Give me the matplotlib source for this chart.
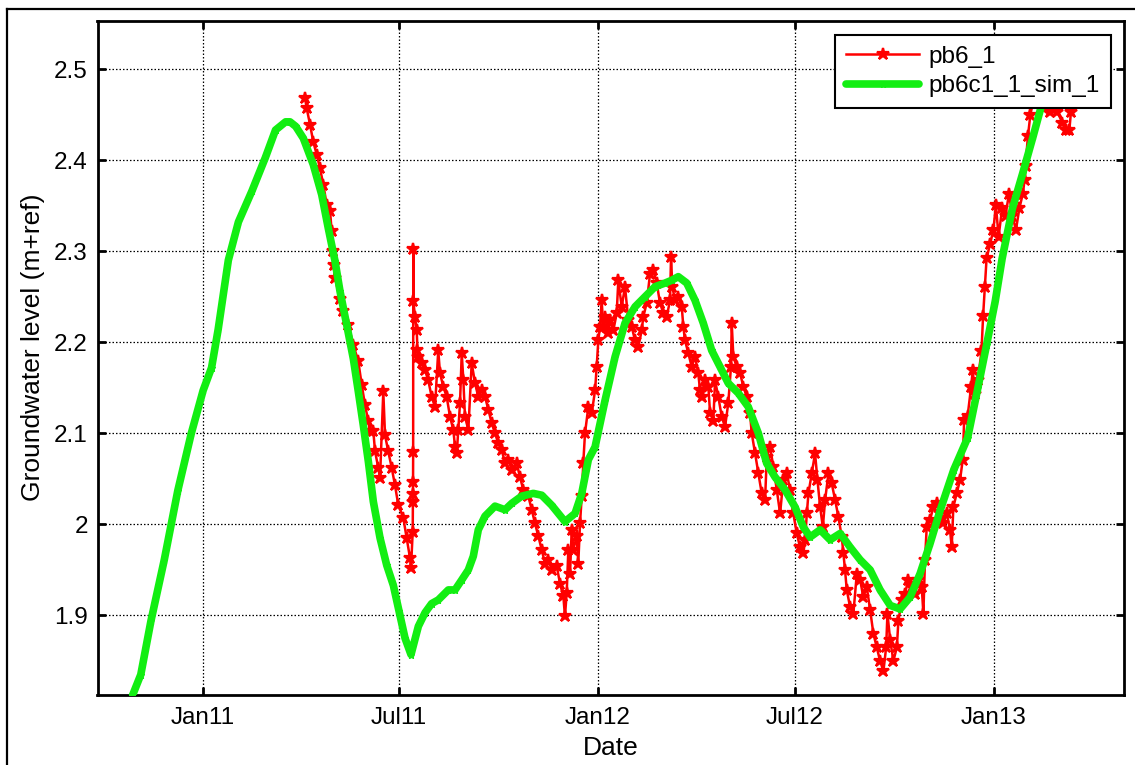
import numpy as np
import matplotlib
matplotlib.use("Agg")
import matplotlib.pyplot as plt
import matplotlib.dates as mdates
from matplotlib.ticker import FixedLocator, FuncFormatter
from matplotlib.lines import Line2D

# Days are counted from 2011-01-01
ORIGIN = np.datetime64("2011-01-01T00:00:00")

# Simulated groundwater level (pb6c1_1_sim_1)
sim_day = [-65.2, -57.5, -48.1, -35.8, -23.3, -10.8, 0.1, 7.9, 14.0, 23.4, 32.7, 45.2,
           57.7, 67.0, 76.3, 80.4, 85.7, 92.7, 101.9, 109.7, 115.8, 122.0, 126.6, 132.8,
           138.9, 143.5, 148.1, 152.8, 157.4, 163.6, 169.8, 175.9, 181.1, 186.7, 192.2,
           199.0, 205.2, 211.3, 217.4, 226.7, 232.9, 239.1, 245.2, 249.8, 254.4, 260.6,
           269.8, 279.1, 285.3, 294.5, 305.2, 313.0, 322.2, 334.5, 343.8, 350.0, 356.1,
           362.3, 371.5, 380.8, 390.0, 399.3, 408.5, 417.7, 427.0, 433.1, 439.2, 447.0,
           454.7, 462.3, 470.1, 477.8, 485.4, 494.7, 503.9, 513.2, 520.9, 528.6, 537.8,
           547.1, 554.8, 561.0, 570.3, 579.5, 588.8, 598.0, 607.3, 616.5, 625.7, 635.0,
           644.2, 653.4, 662.7, 671.9, 681.1, 693.8, 706.6, 716.1, 724.1, 732.1, 738.5,
           748.0, 757.6, 767.1, 775.1, 782.7, 792.0]
sim_level = [1.812, 1.835, 1.894, 1.961, 2.037, 2.100, 2.147, 2.172, 2.214, 2.290, 2.332,
             2.366, 2.403, 2.433, 2.442, 2.442, 2.437, 2.424, 2.395, 2.362, 2.325, 2.289,
             2.256, 2.219, 2.182, 2.146, 2.109, 2.069, 2.025, 1.985, 1.955, 1.933, 1.905,
             1.875, 1.857, 1.888, 1.903, 1.913, 1.917, 1.928, 1.928, 1.939, 1.950, 1.965,
             1.994, 2.009, 2.020, 2.016, 2.023, 2.031, 2.034, 2.032, 2.021, 2.003, 2.012,
             2.034, 2.071, 2.085, 2.136, 2.184, 2.221, 2.239, 2.250, 2.261, 2.265, 2.268,
             2.272, 2.265, 2.246, 2.221, 2.191, 2.173, 2.155, 2.144, 2.129, 2.100, 2.067,
             2.052, 2.038, 2.019, 1.997, 1.986, 1.994, 1.983, 1.990, 1.975, 1.961, 1.950,
             1.928, 1.911, 1.907, 1.920, 1.946, 1.979, 2.015, 2.060, 2.095, 2.150, 2.197,
             2.245, 2.292, 2.347, 2.386, 2.426, 2.461, 2.495, 2.530]

# Observed groundwater level (pb6_1)
obs_day = [94.3, 95.8, 98.9, 101.9, 105.1, 108.1, 111.2, 114.3, 117.4, 118.9, 119.9, 120.6,
           122.0, 126.6, 129.7, 134.3, 138.9, 143.5, 146.7, 149.7, 152.8, 154.3, 157.4,
           159.0, 162.0, 163.6, 166.6, 168.2, 171.2, 174.4, 177.4, 180.5, 185.1, 188.2,
           191.3, 192.2, 193.8, 193.9, 194.0, 194.1, 194.2, 194.3, 194.4, 195.9, 197.5,
           198.2, 199.0, 202.1, 205.2, 208.2, 211.3, 214.4, 217.4, 219.0, 222.1, 225.2,
           228.3, 231.3, 232.9, 234.5, 235.9, 237.5, 239.1, 240.6, 242.1, 245.2, 248.3,
           251.4, 254.4, 257.6, 260.6, 263.7, 266.8, 269.8, 272.9, 276.0, 279.1, 282.1,
           285.3, 289.9, 292.9, 296.0, 300.6, 303.8, 306.8, 309.9, 313.0, 316.1, 319.1,
           322.2, 326.9, 329.9, 333.0, 334.5, 336.1, 337.6, 339.2, 340.7, 342.2, 345.3,
           346.8, 348.4, 350.0, 351.4, 353.0, 356.1, 359.2, 362.3, 363.8, 365.3, 366.9,
           368.4, 369.9, 371.5, 374.5, 376.1, 379.2, 382.3, 383.8, 386.9, 390.0, 393.0,
           396.2, 399.2, 402.3, 405.4, 406.9, 410.0, 413.1, 416.1, 419.3, 422.3, 425.4,
           428.5, 431.6, 432.5, 433.7, 436.2, 439.2, 442.4, 443.9, 445.4, 448.5, 451.6,
           454.7, 457.7, 459.3, 460.9, 463.9, 467.0, 468.6, 471.6, 473.2, 476.2, 479.4,
           482.4, 485.4, 487.9, 488.6, 490.1, 493.2, 496.3, 499.4, 502.5, 505.5, 507.1,
           510.2, 513.2, 516.3, 519.4, 521.0, 524.0, 527.1, 530.2, 533.3, 536.3, 539.5,
           542.5, 545.5, 548.7, 551.7, 554.8, 556.4, 558.0, 559.5, 562.5, 565.6, 567.8,
           570.3, 572.8, 574.9, 578.0, 581.0, 584.1, 587.2, 590.3, 591.8, 593.3, 594.9,
           598.0, 601.0, 604.2, 607.3, 610.2, 613.4, 616.5, 619.5, 622.6, 625.7, 628.8,
           631.3, 632.5, 635.0, 638.0, 641.2, 642.6, 645.8, 648.7, 651.8, 655.0, 658.0,
           661.1, 664.2, 665.7, 667.2, 668.8, 671.9, 674.9, 678.0, 681.1, 684.1, 687.3,
           690.3, 691.9, 693.4, 696.5, 699.6, 702.1, 703.4, 706.6, 709.8, 711.4, 713.0,
           716.1, 719.4, 720.9, 722.5, 724.1, 727.3, 730.4, 732.7, 735.2, 738.5, 741.6,
           744.8, 748.0, 751.2, 754.4, 757.6, 759.2, 760.1, 762.3, 764.5, 767.1, 770.4,
           776.6, 783.0, 789.4, 794.2, 797.4, 800.6, 802.1]
obs_level = [2.468, 2.457, 2.439, 2.420, 2.406, 2.391, 2.373, 2.351, 2.344, 2.322, 2.300,
             2.285, 2.270, 2.248, 2.234, 2.219, 2.197, 2.179, 2.153, 2.131, 2.113, 2.102,
             2.102, 2.080, 2.062, 2.051, 2.146, 2.098, 2.080, 2.062, 2.043, 2.021, 2.007,
             1.985, 1.963, 1.952, 1.992, 2.025, 2.033, 2.047, 2.079, 2.302, 2.245, 2.228,
             2.213, 2.191, 2.184, 2.177, 2.169, 2.158, 2.140, 2.129, 2.191, 2.166, 2.151,
             2.140, 2.118, 2.104, 2.085, 2.078, 2.104, 2.133, 2.188, 2.158, 2.118, 2.104,
             2.177, 2.155, 2.140, 2.147, 2.140, 2.126, 2.111, 2.100, 2.089, 2.082, 2.067,
             2.071, 2.060, 2.067, 2.052, 2.038, 2.031, 2.016, 2.001, 1.987, 1.972, 1.957,
             1.961, 1.950, 1.954, 1.935, 1.921, 1.899, 1.925, 1.972, 1.946, 1.994, 1.972,
             1.987, 1.957, 2.001, 2.031, 2.067, 2.100, 2.129, 2.122, 2.147, 2.173, 2.202,
             2.217, 2.246, 2.217, 2.228, 2.210, 2.224, 2.213, 2.232, 2.268, 2.239, 2.261,
             2.224, 2.217, 2.202, 2.195, 2.213, 2.228, 2.243, 2.275, 2.279, 2.265, 2.243,
             2.232, 2.228, 2.246, 2.294, 2.261, 2.246, 2.250, 2.239, 2.217, 2.202, 2.188,
             2.173, 2.184, 2.166, 2.147, 2.140, 2.158, 2.151, 2.122, 2.114, 2.158, 2.140,
             2.118, 2.107, 2.133, 2.173, 2.221, 2.184, 2.173, 2.166, 2.151, 2.140, 2.122,
             2.100, 2.078, 2.056, 2.034, 2.027, 2.074, 2.085, 2.063, 2.038, 2.012, 2.049,
             2.056, 2.038, 2.012, 1.990, 1.975, 1.968, 1.983, 2.012, 2.034, 2.056, 2.078,
             2.049, 2.019, 1.997, 2.027, 2.056, 2.045, 2.027, 2.008, 1.986, 1.968, 1.950,
             1.928, 1.909, 1.902, 1.946, 1.939, 1.920, 1.931, 1.906, 1.880, 1.865, 1.850,
             1.839, 1.865, 1.902, 1.873, 1.850, 1.865, 1.894, 1.917, 1.924, 1.939, 1.931,
             1.924, 1.939, 1.931, 1.902, 1.961, 1.997, 2.005, 2.019, 2.023, 2.012, 2.001,
             2.012, 1.994, 1.975, 2.019, 2.034, 2.049, 2.071, 2.115, 2.119, 2.151, 2.170,
             2.143, 2.159, 2.190, 2.229, 2.261, 2.292, 2.308, 2.323, 2.351, 2.316, 2.347,
             2.339, 2.363, 2.339, 2.323, 2.347, 2.363, 2.378, 2.394, 2.426, 2.449, 2.465,
             2.470, 2.457, 2.453, 2.453, 2.441, 2.433, 2.433, 2.453]

series_labels = ["pb6_1", "pb6c1_1_sim_1"]
y_ticks = [1.9, 2.0, 2.1, 2.2, 2.3, 2.4, 2.5]
x_range_days = (-97.5, 851.1)
y_range = (1.8126, 2.5533)


def to_dates(days):
    secs = np.round(np.asarray(days, dtype=float) * 86400).astype("timedelta64[s]")
    return ORIGIN + secs


plt.rcParams["font.family"] = ["Liberation Sans", "DejaVu Sans"]

fig = plt.figure(figsize=(11.35, 7.65), dpi=100)
ax = fig.add_axes([97.5 / 1135, 70 / 765, 1026.5 / 1135, 674.5 / 765])

red = "#ff0000"
green = "#12ee12"

ax.plot(to_dates(obs_day), obs_level, color=red, lw=1.8, marker="*",
        markersize=9, markeredgewidth=1.6, label=series_labels[0], zorder=3,
        solid_joinstyle="round")
ax.plot(to_dates(sim_day), sim_level, color=green, lw=5.5, marker="*",
        markersize=5, markeredgewidth=1.0, label=series_labels[1], zorder=4,
        solid_capstyle="round", solid_joinstyle="round")

ax.set_xlim(to_dates([x_range_days[0]])[0], to_dates([x_range_days[1]])[0])
ax.set_ylim(*y_range)

ax.xaxis.set_major_locator(mdates.MonthLocator(bymonth=[1, 7]))
ax.xaxis.set_major_formatter(mdates.DateFormatter("%b%y"))
ax.yaxis.set_major_locator(FixedLocator(y_ticks))
ax.yaxis.set_major_formatter(FuncFormatter(lambda v, p: f"{v:g}"))

ax.grid(True, color="black", linestyle=(0, (1.2, 1.6)), linewidth=0.9)
for s in ax.spines.values():
    s.set_linewidth(2.0)
ax.tick_params(direction="in", length=6, width=2.0, top=True, right=True,
               labelsize=17.5, colors="black")
ax.tick_params(axis="y", pad=7)
ax.tick_params(axis="x", pad=9)

ax.set_xlabel("Date", fontsize=19, labelpad=5)
ax.set_ylabel("Groundwater level (m+ref)", fontsize=19)
ax.yaxis.set_label_coords(-0.051, 0.515)

leg = ax.legend(loc="upper right", bbox_to_anchor=(0.9873, 0.9785),
                borderaxespad=0, fontsize=17.5, numpoints=1, handlelength=3.0,
                handletextpad=0.4, borderpad=0.45, labelspacing=0.3,
                fancybox=False, framealpha=1, edgecolor="black")
leg.get_frame().set_linewidth(1.5)
leg.set_zorder(10)

# outer figure frame
fig.add_artist(Line2D([7 / 1135, 7 / 1135], [0, 756 / 765], color="black", lw=1.6,
                      transform=fig.transFigure))
fig.add_artist(Line2D([7 / 1135, 1], [756 / 765, 756 / 765], color="black", lw=1.6,
                      transform=fig.transFigure))

fig.savefig("out.png", dpi=100)
